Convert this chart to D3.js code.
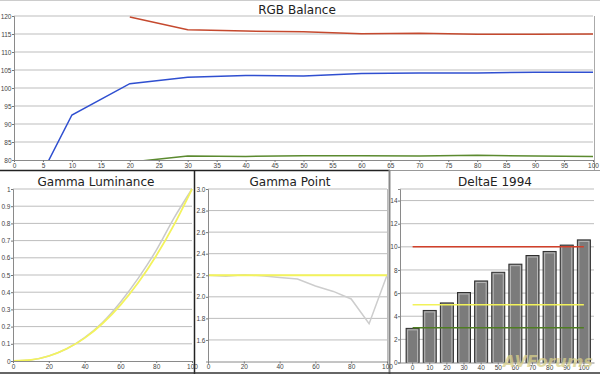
<!DOCTYPE html>
<html>
<head>
<meta charset="utf-8">
<script src="https://cdn.jsdelivr.net/npm/d3@7"></script>
<style>
  body { margin: 0; background: #fff; }
  svg { display: block; font-family: "DejaVu Sans", Verdana, sans-serif; }
  .tick text { fill: #444; font-size: 6.5px; }
</style>
</head>
<body>
<svg width="600" height="374"></svg>
<script>
// stimulus levels (% input)
var levels = [0, 10, 20, 30, 40, 50, 60, 70, 80, 90, 100];

// RGB balance (%)
var redBal   = [null, null, 119.7, 116.2, 115.8, 115.6, 115.1, 115.2, 114.9, 114.9, 115.0];
var greenBal = [null, null, 79.4, 81.1, 81.0, 81.2, 81.2, 81.1, 81.3, 81.1, 81.0];
var blueBal  = [61, 92.5, 101.2, 103.0, 103.5, 103.3, 104.0, 104.2, 104.2, 104.4, 104.4];
var rgbXTicks = [0, 5, 10, 15, 20, 25, 30, 35, 40, 45, 50, 55, 60, 65, 70, 75, 80, 85, 90, 95, 100];
var rgbYTicks = [80, 85, 90, 95, 100, 105, 110, 115, 120];

// gamma luminance
var lumTarget   = [0, 0.006, 0.029, 0.071, 0.133, 0.218, 0.325, 0.456, 0.612, 0.793, 1];
var lumMeasured = [0, 0.006, 0.029, 0.071, 0.136, 0.224, 0.342, 0.482, 0.643, 0.832, 1];
var lumYTicks = [0, 0.1, 0.2, 0.3, 0.4, 0.5, 0.6, 0.7, 0.8, 0.9, 1];

// gamma point
var gammaTarget   = [2.2, 2.2, 2.2, 2.2, 2.2, 2.2, 2.2, 2.2, 2.2, 2.2, 2.2];
var gammaMeasured = [2.2, 2.19, 2.205, 2.195, 2.18, 2.165, 2.1, 2.05, 1.98, 1.75, 2.2];
var gammaYTicks = [1.6, 1.8, 2, 2.2, 2.4, 2.6, 2.8, 3];

// deltaE 1994
var deltaE = [2.95, 4.5, 5.15, 6.05, 7.05, 7.8, 8.5, 9.25, 9.6, 10.15, 10.6];
var deltaEYTicks = [0, 2, 4, 6, 8, 10, 12, 14];
var deltaERefs = [{v: 10, c: "#d2402a"}, {v: 5, c: "#f2f25a"}, {v: 3, c: "#4f7d22"}];

var xTicks20 = [0, 20, 40, 60, 80, 100];

var svg = d3.select("svg");
var gridColor = "#bdbdbd";

function styleAxis(g) {
    g.select(".domain").attr("stroke", "#8a8a8a");
    g.selectAll(".tick line").attr("stroke", "#777");
}

function grid(g, y, ticks, x0, x1) {
    g.append("g").selectAll("line")
        .data(ticks)
        .enter().append("line")
        .attr("x1", x0).attr("x2", x1)
        .attr("y1", function(d) { return y(d); })
        .attr("y2", function(d) { return y(d); })
        .attr("stroke", gridColor)
        .attr("stroke-width", 1);
}

function title(txt, x, y) {
    svg.append("text")
        .attr("x", x).attr("y", y)
        .attr("text-anchor", "middle")
        .attr("font-size", 12)
        .attr("fill", "#222")
        .text(txt);
}

// panel separators (drawn first so the tick labels sit on top)
svg.append("line").attr("x1", 0).attr("x2", 600).attr("y1", 0.5).attr("y2", 0.5).attr("stroke", "#ccc");
svg.append("line").attr("x1", 0).attr("x2", 390).attr("y1", 170.5).attr("y2", 170.5).attr("stroke", "#222").attr("stroke-width", 1.5);
svg.append("line").attr("x1", 390).attr("x2", 600).attr("y1", 170.5).attr("y2", 170.5).attr("stroke", "#999").attr("stroke-width", 1);
svg.append("line").attr("x1", 194.5).attr("x2", 194.5).attr("y1", 170).attr("y2", 374).attr("stroke", "#222").attr("stroke-width", 1.5);
svg.append("line").attr("x1", 389.5).attr("x2", 389.5).attr("y1", 170).attr("y2", 374).attr("stroke", "#888").attr("stroke-width", 2);
svg.append("line").attr("x1", 0).attr("x2", 600).attr("y1", 373).attr("y2", 373).attr("stroke", "#333").attr("stroke-width", 1.5);

// ---------- RGB Balance ----------
var xR = d3.scaleLinear().domain([0, 100]).range([14, 593]);
var yR = d3.scaleLinear().domain([80, 120]).range([160, 16]);

title("RGB Balance", 297, 14);

var gR = svg.append("g");
grid(gR, yR, rgbYTicks.slice(1), 14, 593);
gR.append("line").attr("x1", 594.5).attr("x2", 594.5).attr("y1", 16).attr("y2", 170).attr("stroke", "#aaa");

svg.append("clipPath").attr("id", "clipR")
    .append("rect").attr("x", 14).attr("y", yR(120)).attr("width", 580).attr("height", yR(80) - yR(120));

var rgbSeries = [
    {vals: redBal, c: "#c5492e"},
    {vals: blueBal, c: "#2f4fd0"},
    {vals: greenBal, c: "#5b8a2f"}
];
var lineR = d3.line()
    .defined(function(d) { return d != null; })
    .x(function(d, i) { return xR(levels[i]); })
    .y(function(d) { return yR(d); });

gR.selectAll(".rgb")
    .data(rgbSeries)
    .enter().append("path")
    .attr("class", "rgb")
    .attr("clip-path", "url(#clipR)")
    .attr("fill", "none")
    .attr("stroke", function(d) { return d.c; })
    .attr("stroke-width", 1.5)
    .attr("d", function(d) { return lineR(d.vals); });

gR.append("g")
    .attr("transform", "translate(0,160)")
    .call(d3.axisBottom(xR).tickValues(rgbXTicks).tickSize(2).tickPadding(1).tickFormat(d3.format("d")))
    .call(styleAxis);
gR.append("g")
    .attr("transform", "translate(14,0)")
    .call(d3.axisLeft(yR).tickValues(rgbYTicks).tickSize(2).tickPadding(0.5))
    .call(styleAxis);

// ---------- Gamma Luminance ----------
var xL = d3.scaleLinear().domain([0, 100]).range([13, 192]);
var yL = d3.scaleLinear().domain([0, 1]).range([361, 189]);
title("Gamma Luminance", 96, 186);
var gL = svg.append("g");
grid(gL, yL, lumYTicks.slice(1), 13, 192);
var lineL = d3.line()
    .x(function(d, i) { return xL(levels[i]); })
    .y(function(d) { return yL(d); })
    .curve(d3.curveMonotoneX);
gL.append("path").attr("d", lineL(lumMeasured)).attr("fill", "none").attr("stroke", "#c9c9c9").attr("stroke-width", 1.5);
gL.append("path").attr("d", lineL(lumTarget)).attr("fill", "none").attr("stroke", "#f3f35c").attr("stroke-width", 1.8);
gL.append("g")
    .attr("transform", "translate(0,361)")
    .call(d3.axisBottom(xL).tickValues(xTicks20).tickSize(2).tickPadding(1))
    .call(styleAxis);
gL.append("g")
    .attr("transform", "translate(13,0)")
    .call(d3.axisLeft(yL).tickValues(lumYTicks).tickSize(2).tickPadding(0.5).tickFormat(function(d) { return d3.format("~g")(d); }))
    .call(styleAxis);

// ---------- Gamma Point ----------
var xG = d3.scaleLinear().domain([0, 100]).range([208, 387]);
var yG = d3.scaleLinear().domain([1.4, 3]).range([361.5, 189]);
title("Gamma Point", 290, 186);
var gG = svg.append("g");
grid(gG, yG, gammaYTicks, 208, 387);
gG.append("line").attr("x1", 387.5).attr("x2", 387.5).attr("y1", 189).attr("y2", 362).attr("stroke", "#bbb");
var lineG = d3.line()
    .x(function(d, i) { return xG(levels[i]); })
    .y(function(d) { return yG(d); });
gG.append("path").attr("d", lineG(gammaMeasured)).attr("fill", "none").attr("stroke", "#cdcdcd").attr("stroke-width", 1.5);
gG.append("path").attr("d", lineG(gammaTarget)).attr("fill", "none").attr("stroke", "#f3f35c").attr("stroke-width", 2.2);
gG.append("g")
    .attr("transform", "translate(0,361.5)")
    .call(d3.axisBottom(xG).tickValues(xTicks20).tickSize(2).tickPadding(1))
    .call(styleAxis);
gG.append("g")
    .attr("transform", "translate(208,0)")
    .call(d3.axisLeft(yG).tickValues(gammaYTicks).tickSize(2).tickPadding(0.5))
    .call(styleAxis);

// ---------- DeltaE 1994 ----------
var xD = d3.scaleBand().domain(levels).range([402, 594.5]).padding(0.24);
var yD = d3.scaleLinear().domain([0, 15]).range([362.5, 189]);
title("DeltaE 1994", 495, 186);
var gD = svg.append("g");
grid(gD, yD, deltaEYTicks.slice(1).concat([15]), 400, 594);

var bars = gD.selectAll(".bar")
    .data(deltaE)
    .enter().append("g")
    .attr("class", "bar");
bars.append("rect")
    .attr("x", function(d, i) { return xD(levels[i]); })
    .attr("y", function(d) { return yD(d); })
    .attr("width", xD.bandwidth())
    .attr("height", function(d) { return yD(0) - yD(d); })
    .attr("fill", "#7b7b7b")
    .attr("stroke", "#2e2e2e")
    .attr("stroke-width", 1);
bars.append("rect")
    .attr("x", function(d, i) { return xD(levels[i]) + 1.5; })
    .attr("y", function(d) { return yD(d) + 1.5; })
    .attr("width", xD.bandwidth() - 3)
    .attr("height", function(d) { return yD(0) - yD(d) - 1.5; })
    .attr("fill", "none")
    .attr("stroke", "#b8b8b8")
    .attr("stroke-width", 1);

var c0 = xD(levels[0]) + xD.bandwidth() / 2;
var c1 = xD(levels[levels.length - 1]) + xD.bandwidth() / 2;
gD.selectAll(".ref")
    .data(deltaERefs)
    .enter().append("line")
    .attr("class", "ref")
    .attr("x1", c0).attr("x2", c1)
    .attr("y1", function(d) { return yD(d.v); })
    .attr("y2", function(d) { return yD(d.v); })
    .attr("stroke", function(d) { return d.c; })
    .attr("stroke-width", 1.5);

gD.append("g")
    .attr("transform", "translate(0,362.5)")
    .call(d3.axisBottom(xD).tickSize(2).tickPadding(1))
    .call(styleAxis);
gD.select("g .domain").attr("d", "M400,0.5H594.5");
gD.append("g")
    .attr("transform", "translate(400,0)")
    .call(d3.axisLeft(yD).tickValues(deltaEYTicks).tickSize(2).tickPadding(0.5))
    .call(styleAxis);

// watermark
svg.append("text")
    .attr("x", 548).attr("y", 367)
    .attr("text-anchor", "middle")
    .attr("font-size", 16)
    .attr("font-weight", "bold")
    .attr("font-style", "italic")
    .attr("fill", "#d8cf8a")
    .attr("fill-opacity", 0.75)
    .text("AVForums");
</script>
</body>
</html>
